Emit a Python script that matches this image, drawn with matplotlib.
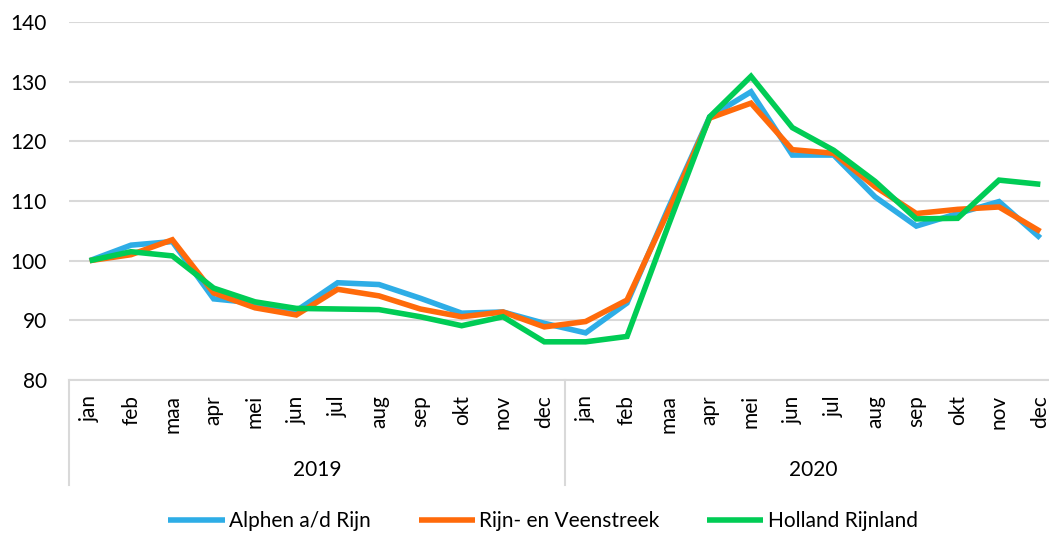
import matplotlib.pyplot as plt
from matplotlib.lines import Line2D

months = ['jan', 'feb', 'maa', 'apr', 'mei', 'jun', 'jul', 'aug', 'sep', 'okt', 'nov', 'dec']
years = ['2019', '2020']

alphen = [100, 102.6, 103.2, 93.6, 92.9, 91.6, 96.3, 96.0, 93.7, 91.2, 91.4, 89.5,
          87.9, 92.9, 108.8, 124.1, 128.3, 117.7, 117.7, 110.7, 105.8, 107.9, 109.9, 103.8]
rijn_veen = [100, 101.0, 103.5, 94.6, 92.1, 90.9, 95.2, 94.1, 91.9, 90.6, 91.4, 88.9,
             89.8, 93.4, 108.3, 123.9, 126.4, 118.6, 118.0, 112.4, 107.9, 108.6, 109.0, 104.9]
holland = [100, 101.5, 100.8, 95.4, 93.1, 92.0, 91.9, 91.8, 90.6, 89.1, 90.6, 86.4,
           86.4, 87.3, 105.9, 124.1, 130.9, 122.3, 118.5, 113.3, 107.0, 107.1, 113.5, 112.8]

series = [('Alphen a/d Rijn', alphen, '#2EADE6'),
          ('Rijn- en Veenstreek', rijn_veen, '#FF6A0A'),
          ('Holland Rijnland', holland, '#00CC55')]

plt.rcParams['font.family'] = ['Lato', 'DejaVu Sans']
fs = 15
grid_col = '#D9D9D9'

W, H = 1049, 533
fig = plt.figure(figsize=(W / 100, H / 100), dpi=100)
# plot area runs a little past the right edge, as in the reference
ax = fig.add_axes([69 / W, 1 - 380 / H, (1061 - 69) / W, (380 - 22) / H])

x = list(range(len(months) * len(years)))
for name, vals, col in series:
    ax.plot(x, vals, color=col, lw=4, label=name, solid_joinstyle='miter', solid_capstyle='butt')

ax.set_xlim(-0.5, len(x) - 0.5)
ax.set_ylim(80, 140)
ax.set_yticks(range(80, 141, 10))
ax.tick_params(axis='y', length=0, pad=16, labelsize=fs)
ax.set_xticks(x)
ax.set_xticklabels(months * len(years), rotation=90, fontsize=fs)
ax.tick_params(axis='x', length=0, pad=11)
ax.grid(axis='y', color=grid_col, lw=1.5)
ax.set_axisbelow(True)
for s in ['top', 'right', 'left']:
    ax.spines[s].set_visible(False)
ax.spines['bottom'].set_color(grid_col)
ax.spines['bottom'].set_linewidth(1.5)

# year group labels and separators below the axis
tr = ax.get_xaxis_transform()
for k in range(len(years) + 1):
    xs = k * len(months) - 0.5
    ax.add_line(Line2D([xs, xs], [0, -105 / 358], transform=tr, color=grid_col,
                       lw=1.5, clip_on=False))
for k, yr in enumerate(years):
    ax.text(k * len(months) + (len(months) - 1) / 2, -90 / 358, yr, transform=tr,
            ha='center', va='center', fontsize=fs)

fig.legend(loc='center', bbox_to_anchor=(543 / W, 1 - 521 / H), ncol=3, frameon=False,
           fontsize=fs, handlelength=2.7, handletextpad=0.2, columnspacing=2.3)

fig.savefig('out.png', dpi=100)
